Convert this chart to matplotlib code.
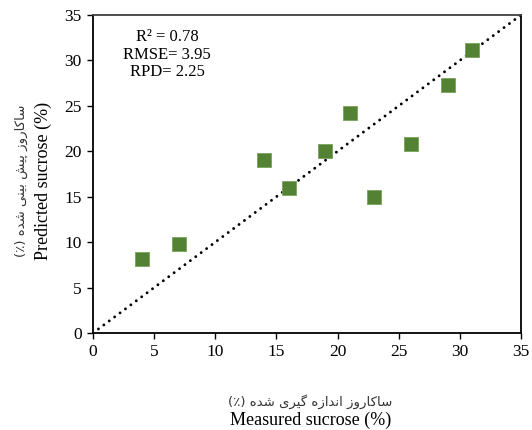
import matplotlib
matplotlib.use('Agg')
import matplotlib.pyplot as plt

# measured vs predicted sucrose (%)
measured = [4, 7, 14, 16, 19, 21, 23, 26, 29, 31]
predicted = [8.1, 9.8, 19.0, 16.0, 20.0, 24.2, 15.0, 20.8, 27.3, 31.2]
ticks = [0, 5, 10, 15, 20, 25, 30, 35]
stats_text = 'R\u00b2 = 0.78\nRMSE= 3.95\nRPD= 2.25'

# Persian labels, pre-shaped (presentation forms) in visual (left-to-right) order
fa_sucrose = '\uFEAF\uFEED\uFEAD\uFE8E\uFB90\uFE8E\uFEB3'   # ساکاروز
fa_andaze = '\uFEE9\uFEAF\uFE8D\uFEAA\uFEE7\uFE8D'          # اندازه
fa_giri = '\uFBFC\uFEAE\uFBFF\uFB94'                        # گیری
fa_pish = '\uFEB6\uFBFF\uFB58'                              # پیش
fa_bini = '\uFBFD\uFEE8\uFBFF\uFE91'                        # بینی
fa_done = '\uFEE9\uFEAA\uFEB7'                              # شده
fa_xlabel = ' '.join(['(\u066A)', fa_done, fa_giri, fa_andaze, fa_sucrose])
fa_ylabel = ' '.join(['(\u066A)', fa_done, fa_bini, fa_pish, fa_sucrose])

plt.rcParams['font.family'] = ['Liberation Serif', 'DejaVu Sans']

fig = plt.figure(figsize=(5.32, 4.30), dpi=100)
ax = fig.add_axes([0.1748, 0.2256, 0.8045, 0.7395])

# 1:1 line
ax.plot([0, 35], [0, 35], color='black', linestyle=(0, (0.01, 2.3)), linewidth=2.1,
        dash_capstyle='round', zorder=2)
ax.scatter(measured, predicted, marker='s', s=95, color='#548235',
           edgecolors='#7aa35c', linewidths=0.6, zorder=3)

ax.set_xlim(0, 35)
ax.set_ylim(0, 35)
ax.set_xticks(ticks)
ax.set_yticks(ticks)
ax.tick_params(labelsize=12.5, direction='out', length=4, width=1, pad=4)
for s in ax.spines.values():
    s.set_linewidth(1.3)
    s.set_color('black')
ax.spines['top'].set_color('#404040')

ax.text(0.173, 0.955, stats_text, transform=ax.transAxes, ha='center', va='top',
        fontsize=12, linespacing=1.1)

# axis labels (Persian + English)
fig.text(0.583, 0.065, fa_xlabel, ha='center', va='center', fontsize=9.5,
         family='DejaVu Sans', color='#333333')
fig.text(0.583, 0.023, 'Measured sucrose (%)', ha='center', va='center', fontsize=13)
fig.text(0.040, 0.579, fa_ylabel, ha='center', va='center', rotation=90,
         fontsize=9.5, family='DejaVu Sans', color='#333333')
fig.text(0.082, 0.579, 'Predicted sucrose (%)', ha='center', va='center',
         rotation=90, fontsize=13)

fig.savefig('out.png', dpi=100)
